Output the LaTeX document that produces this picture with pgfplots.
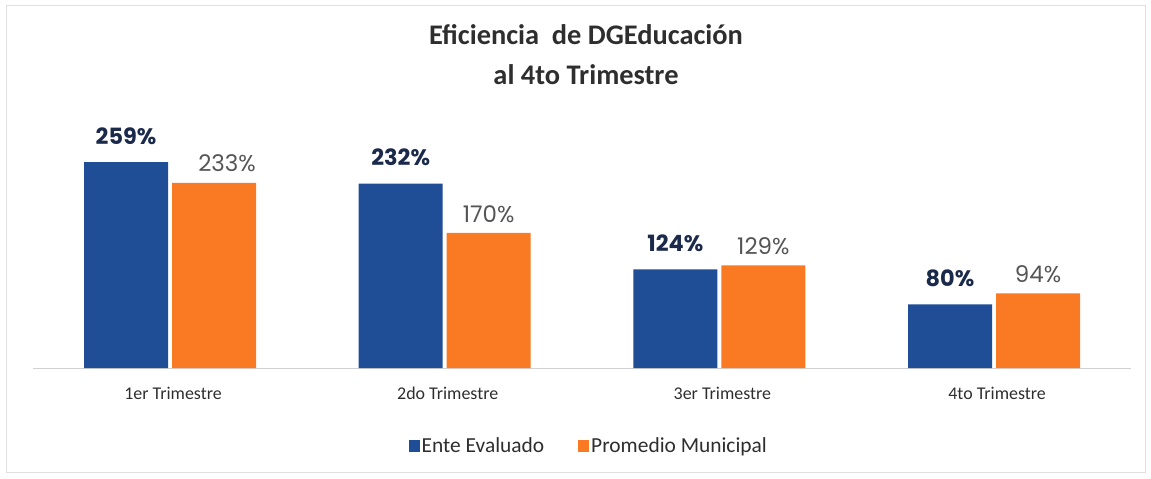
\documentclass[border=0pt]{standalone}
\usepackage{fontspec}
\setmainfont{Carlito}
\newfontfamily\popp{Poppins}
\usepackage{pgfplots}
\pgfplotsset{compat=1.18}
\definecolor{barblue}{HTML}{1F4E96}
\definecolor{barorange}{HTML}{F97A22}
\definecolor{navy}{HTML}{1B2A4A}
\definecolor{labgray}{HTML}{555555}
\definecolor{txtgray}{HTML}{2E2E2E}
\begin{document}
\begin{tikzpicture}
\path (0bp,0bp) rectangle (1151bp,479bp);
\draw[black!12, line width=1bp] (6bp,6bp) rectangle (1145bp,473bp);
\node[font=\bfseries\fontsize{28.5}{32}\selectfont, text=txtgray] at (586bp,444bp) {Eficiencia\ \ de DGEducación};
\node[font=\bfseries\fontsize{28.5}{32}\selectfont, text=txtgray] at (586bp,404bp) {al 4to Trimestre};
\begin{axis}[
  at={(32.7bp,111bp)}, anchor=south west,
  scale only axis,
  width=1098.7bp, height=238.5bp,
  xmin=-0.5, xmax=3.5, ymin=0, ymax=300,
  axis y line=none,
  axis x line*=bottom,
  x axis line style={draw=black!18, line width=1bp, -},
  xtick={0,1,2,3},
  xticklabels={1er Trimestre,2do Trimestre,3er Trimestre,4to Trimestre},
  xtick style={draw=none},
  xticklabel style={font=\fontsize{18}{21}\selectfont, text=txtgray, yshift=-11bp, xshift=3bp},
  ybar, bar width=84bp,
  clip=false,
  /pgf/number format/assume math mode=true,
  legend columns=2,
  legend style={at={(0.5062,-0.327)}, anchor=center, draw=none, fill=none,
    font=\fontsize{21.5}{24}\selectfont, text=txtgray,
    /tikz/every even column/.append style={column sep=32bp}},
  legend image code/.code={\fill[#1] (0bp,-6bp) rectangle (11bp,6bp);},
]
\addplot[fill=barblue, draw=none, bar shift=-44bp,
  nodes near coords={\pgfmathprintnumber{\pgfplotspointmeta}\%},
  every node near coord/.append style={font=\popp\bfseries\fontsize{22.5}{26}\selectfont, text=navy, yshift=14bp}]
  coordinates {(0,259) (1,232) (2,124) (3,80)};
\addlegendentry{Ente Evaluado}
\addplot[fill=barorange, draw=none, bar shift=44bp,
  visualization depends on={\thisrow{dx} \as \dx},
  nodes near coords={\pgfmathprintnumber{\pgfplotspointmeta}\%},
  every node near coord/.append style={font=\popp\fontsize{23}{26}\selectfont, text=labgray, yshift=7bp, xshift=\dx bp}]
  table[x=x, y=y] {
  x y dx
  0 233 13
  1 170 0
  2 129 0
  3 94 0
  };
\addlegendentry{Promedio Municipal}
\end{axis}
\end{tikzpicture}
\end{document}
